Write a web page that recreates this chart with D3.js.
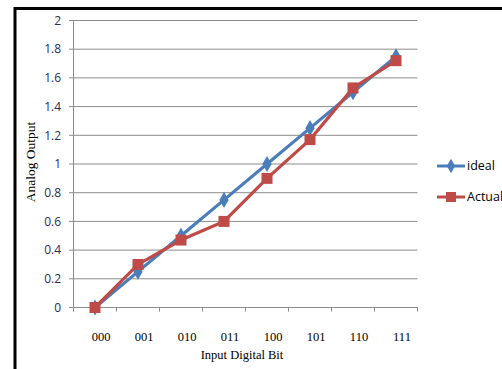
<!DOCTYPE html>
<html><head><meta charset="utf-8">
<script src="https://cdn.jsdelivr.net/npm/d3@7"></script>
<style>body{margin:0;background:#fff}svg{display:block}</style>
</head><body>
<script>
const categories = ["000","001","010","011","100","101","110","111"];
const idealValues = [0,0.25,0.5,0.75,1.0,1.25,1.5,1.75];
const actualValues = [0,0.3,0.47,0.6,0.9,1.17,1.53,1.72];
const yTicks = [0,0.2,0.4,0.6,0.8,1,1.2,1.4,1.6,1.8,2];
const seriesNames = ["ideal","Actual"];

const W=502,H=369;
const svg=d3.select("body").append("svg").attr("width",W).attr("height",H);
svg.append("rect").attr("x",15).attr("y",8.5).attr("width",W).attr("height",H)
  .attr("fill","none").attr("stroke","#000").attr("stroke-width",3);

const x=d3.scaleBand().domain(categories).range([73.5,417.5]);
const y=d3.scaleLinear().domain([0,2]).range([307.5,20.5]);

svg.append("g").selectAll("line").data(yTicks).join("line")
  .attr("x1",69).attr("x2",417.5).attr("y1",d=>y(d)).attr("y2",d=>y(d))
  .attr("stroke","#8c8c8c").attr("stroke-width",1);
svg.append("line").attr("x1",73.5).attr("x2",73.5).attr("y1",y(2)).attr("y2",y(0)+4)
  .attr("stroke","#8c8c8c");
const xEdges=categories.map(c=>x(c)).concat([x.range()[1]]);
svg.append("g").selectAll("line").data(xEdges).join("line")
  .attr("x1",d=>d).attr("x2",d=>d).attr("y1",y(0)).attr("y2",y(0)+4)
  .attr("stroke","#8c8c8c");
svg.append("g").selectAll("text").data(yTicks).join("text")
  .attr("x",61).attr("y",d=>y(d)).attr("dy","0.35em").attr("text-anchor","end")
  .attr("font-family","'Open Sans', 'Liberation Sans', Arial, sans-serif").attr("font-size",12)
  .attr("fill","#2a2a5a").text(d=>d3.format("")(+d.toFixed(1)));
svg.append("g").selectAll("text").data(categories).join("text")
  .attr("x",d=>x(d)+x.bandwidth()/2+6).attr("y",341).attr("text-anchor","middle")
  .attr("font-family","'Liberation Serif','Times New Roman',serif").attr("font-size",12.5)
  .attr("fill","#000").text(d=>d);
svg.append("text").attr("x",242).attr("y",359).attr("text-anchor","middle")
  .attr("font-family","'Liberation Serif','Times New Roman',serif").attr("font-size",12.5)
  .text("Input Digital Bit");
svg.append("text").attr("transform","translate(35,162) rotate(-90)").attr("text-anchor","middle")
  .attr("font-family","'Liberation Serif','Times New Roman',serif").attr("font-size",13.5)
  .text("Analog Output");

const blue="#4a7ebb", red="#be4b48";
const cx=d=>x(d)+x.bandwidth()/2;
const line=d3.line().x((d,i)=>cx(categories[i])).y(d=>y(d));
svg.append("path").attr("d",line(idealValues)).attr("fill","none").attr("stroke",blue).attr("stroke-width",3.2);
svg.append("g").selectAll("path").data(idealValues).join("path")
  .attr("d",d3.symbol(d3.symbolDiamond,75))
  .attr("transform",(d,i)=>`translate(${cx(categories[i])},${y(d)})`).attr("fill",blue);
svg.append("path").attr("d",line(actualValues)).attr("fill","none").attr("stroke",red).attr("stroke-width",3.2);
svg.append("g").selectAll("rect").data(actualValues).join("rect")
  .attr("x",(d,i)=>cx(categories[i])-5.5).attr("y",d=>y(d)-5.5).attr("width",11).attr("height",11)
  .attr("fill",red);

const leg=svg.append("g");
const ly=[166,197];
[blue,red].forEach((c,i)=>{
  leg.append("line").attr("x1",437).attr("x2",465).attr("y1",ly[i]).attr("y2",ly[i]).attr("stroke",c).attr("stroke-width",3);
  if(i===0) leg.append("path").attr("d",d3.symbol(d3.symbolDiamond,60)).attr("transform",`translate(451,${ly[i]})`).attr("fill",c);
  else leg.append("rect").attr("x",446).attr("y",ly[i]-5).attr("width",10).attr("height",10).attr("fill",c);
  leg.append("text").attr("x",467).attr("y",ly[i]).attr("dy","0.35em")
    .attr("font-family","'Open Sans', 'Liberation Sans', Arial, sans-serif").attr("font-size",12.5).attr("fill","#000")
    .text(seriesNames[i]);
});
</script>
</body></html>
